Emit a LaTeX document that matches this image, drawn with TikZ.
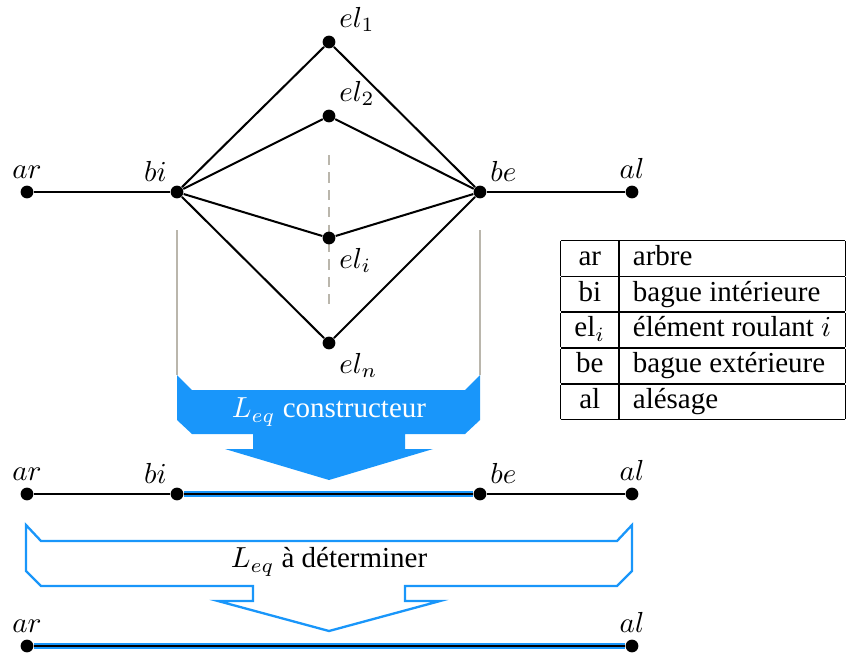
\documentclass[tikz,border=0pt]{standalone}
\usepackage[no-math]{fontspec}
\setmainfont{Liberation Serif}
\usepackage{xcolor}
\usepackage{tikz}
\usetikzlibrary{positioning}
\definecolor{flecheblue}{RGB}{25,150,250}
\definecolor{guidegray}{RGB}{186,182,172}
\setlength{\tabcolsep}{4.8pt}
\tikzset{
    jonction/.style={circle, fill, inner sep=0pt, minimum size=4.4pt},
    lien/.style={line width=0.7pt},
    equiv/.style={flecheblue, line width=1.8pt},
    guide/.style={guidegray, line width=0.7pt},
    fleche/.style={draw=flecheblue, line width=0.8pt, line join=miter},
    every label/.style={inner sep=1pt},
}

\begin{document}
\begin{tikzpicture}[x=3.45pt, y=-3.45pt, label distance=1pt]
\useasboundingbox (0,0) rectangle (84.6,65.4);

% Guides behind the assembly
\draw[guide, dash pattern=on 3.5pt off 2.5pt] (32.9,15.5) -- (32.9,30.5);
\draw[guide] (17.7,23) -- (17.7,37.5);
\draw[guide] (48,23) -- (48,37.5);

% Bearing model
\node[jonction, label={above:$ar$}] (ar) at (2.7,19.2) {};
\node[jonction, label={above left:$bi$}] (bi) at (17.7,19.2) {};
\node[jonction, label={above right:$be$}] (be) at (48,19.2) {};
\node[jonction, label={above:$al$}] (al) at (63.2,19.2) {};
\node[jonction, label={above right:$el_1$}] (el1) at (32.9,4.2) {};
\node[jonction, label={above right:$el_2$}] (el2) at (32.9,11.6) {};
\node[jonction, label={below right:$el_i$}] (eli) at (32.9,23.8) {};
\node[jonction, label={below right:$el_n$}] (eln) at (32.9,34.3) {};

\draw[lien] (ar) -- (bi);
\draw[lien] (be) -- (al);
\foreach \e in {el1, el2, eli, eln}
    \draw[lien] (bi) -- (\e) -- (be);

% Legend
\node[anchor=north west, inner sep=0pt] (legende) at (56,23.9) {%
\begin{tabular}{|c|l|}
\hline
ar & arbre \\ \hline
bi & bague intérieure \\ \hline
el$_i$ & élément roulant $i$ \\ \hline
be & bague extérieure \\ \hline
al & alésage \\ \hline
\end{tabular}};

% First reduction
\fill[flecheblue] (17.7,37.5) -- (19.2,39) -- (46.5,39) -- (48,37.5) -- (48,42)
    -- (46.5,43.4) -- (40.5,43.4) -- (40.5,44.9) -- (43.3,44.9) -- (32.9,48)
    -- (22.5,44.9) -- (25.3,44.9) -- (25.3,43.4) -- (19.2,43.4) -- (17.7,42) -- cycle;
\node[text=white] (constr) at (32.9,41.2) {$L_{eq}$ constructeur};

\node[jonction, label={above:$ar$}] (ar2) at (2.7,49.4) {};
\node[jonction, label={above left:$bi$}] (bi2) at (17.7,49.4) {};
\node[jonction, label={above right:$be$}] (be2) at (48,49.4) {};
\node[jonction, label={above:$al$}] (al2) at (63.2,49.4) {};

\draw[equiv] (bi2) -- (be2);
\draw[lien] (ar2) -- (bi2) -- (be2) -- (al2);

% Second reduction
\draw[fleche] (2.6,52.5) -- (4.1,54.1) -- (61.7,54.1) -- (63.2,52.5) -- (63.2,57.1)
    -- (61.7,58.6) -- (40.5,58.6) -- (40.5,60.1) -- (44,60.1) -- (32.9,63.1)
    -- (21.8,60.1) -- (25.3,60.1) -- (25.3,58.6) -- (4.1,58.6) -- (2.6,57.1) -- cycle;
\node (determ) at (32.9,56.2) {$L_{eq}$ à déterminer};

\node[jonction, label={above:$ar$}] (ar3) at (2.7,64.6) {};
\node[jonction, label={above:$al$}] (al3) at (63.2,64.6) {};

\draw[equiv] (ar3) -- (al3);
\draw[lien] (ar3) -- (al3);

\end{tikzpicture}
\end{document}
